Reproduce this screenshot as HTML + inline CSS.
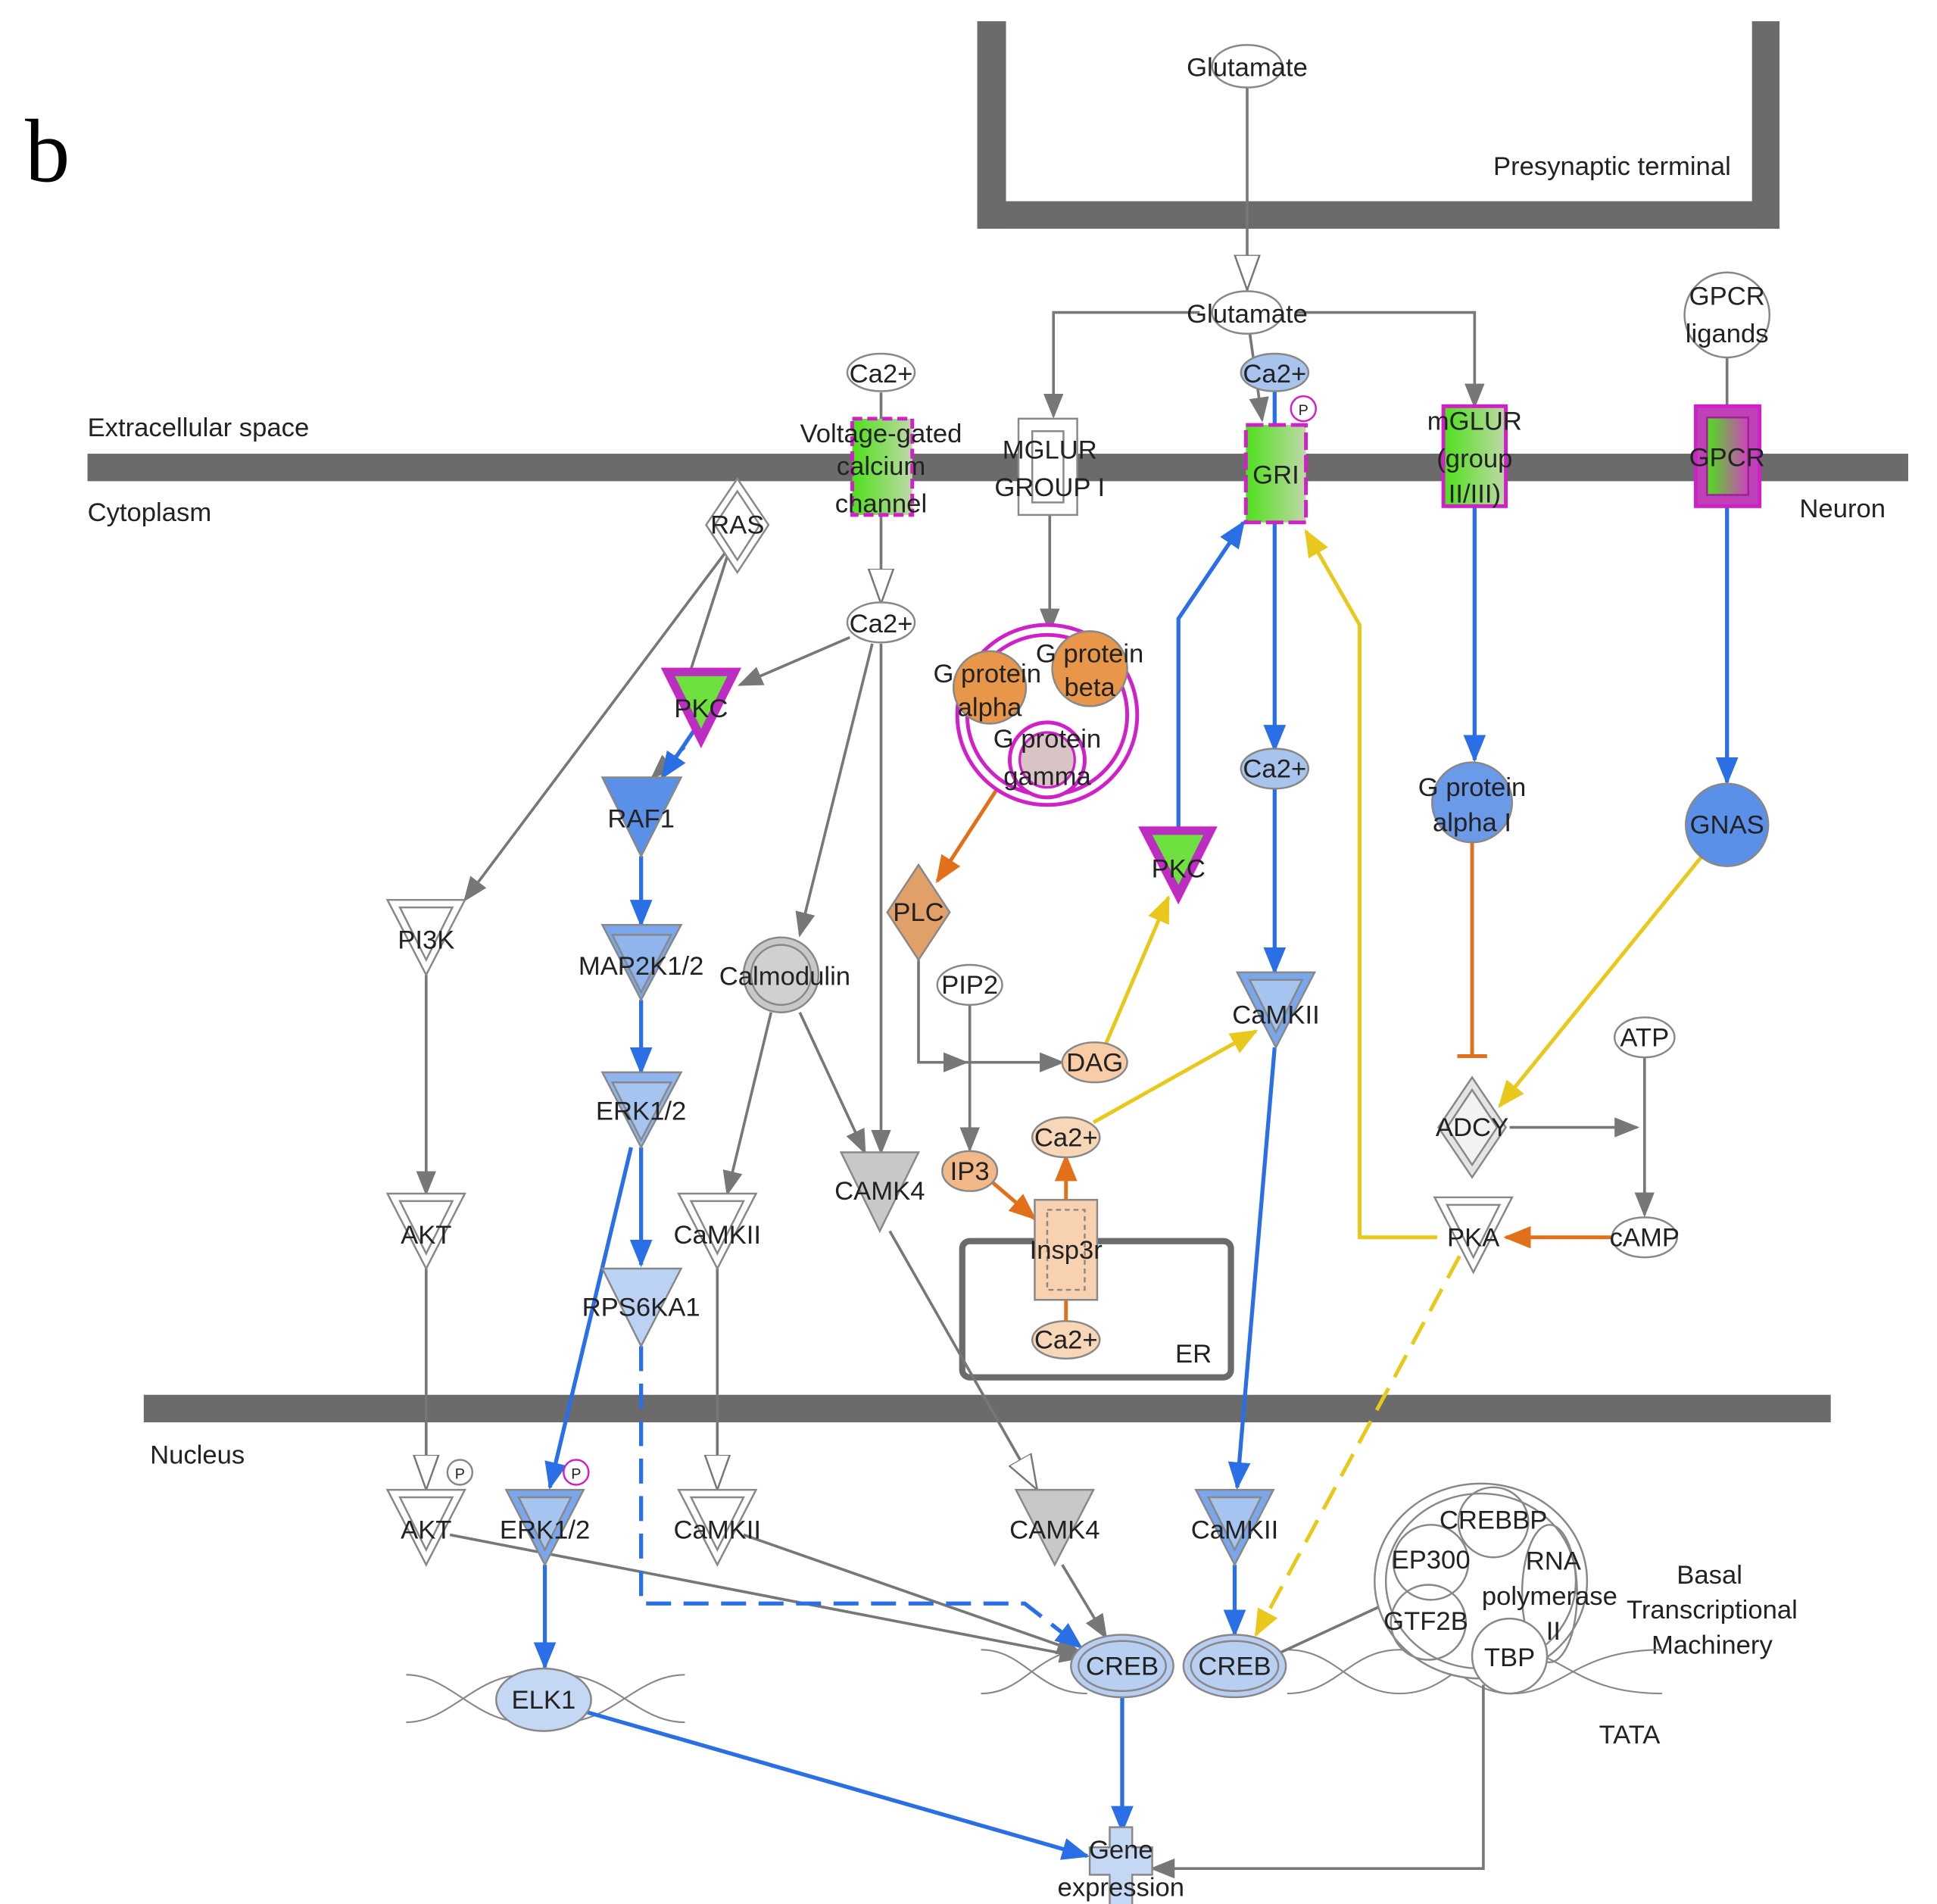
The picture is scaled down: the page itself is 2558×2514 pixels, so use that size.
<!DOCTYPE html>
<html><head><meta charset="utf-8"><style>
html,body{margin:0;padding:0;background:#fff;}
svg{display:block;}
text{font-family:"Liberation Sans",sans-serif;font-size:21px;fill:#222;text-anchor:middle;}
.l{text-anchor:start;}
</style></head><body>
<svg width="2558" height="2514" viewBox="0 0 1550 1523.4" xmlns="http://www.w3.org/2000/svg">
<defs>
<marker id="ag" markerUnits="userSpaceOnUse" markerWidth="20" markerHeight="20" refX="18" refY="10" orient="auto"><path d="M0,2 L20,10 L0,18 Z" fill="#777"/></marker>
<marker id="ab" markerUnits="userSpaceOnUse" markerWidth="22" markerHeight="22" refX="20" refY="11" orient="auto"><path d="M0,2 L22,11 L0,20 Z" fill="#2b6fe6"/></marker>
<marker id="ay" markerUnits="userSpaceOnUse" markerWidth="22" markerHeight="22" refX="20" refY="11" orient="auto"><path d="M0,2 L22,11 L0,20 Z" fill="#e8c81a"/></marker>
<marker id="ao" markerUnits="userSpaceOnUse" markerWidth="22" markerHeight="22" refX="20" refY="11" orient="auto"><path d="M0,2 L22,11 L0,20 Z" fill="#e2701a"/></marker>
<marker id="aw" markerUnits="userSpaceOnUse" markerWidth="30" markerHeight="24" refX="28" refY="12" orient="auto"><path d="M0,2 L28,12 L0,22 Z" fill="#fff" stroke="#777" stroke-width="1.5"/></marker>
<marker id="tb" markerUnits="userSpaceOnUse" markerWidth="4" markerHeight="24" refX="2" refY="12" orient="auto"><path d="M2,0 L2,24" stroke="#e2701a" stroke-width="3"/></marker>
<linearGradient id="gm" x1="0" y1="0" x2="1" y2="0"><stop offset="0" stop-color="#4ee01a"/><stop offset="1" stop-color="#c0d8a8"/></linearGradient>
<linearGradient id="gp" x1="0" y1="0" x2="1" y2="0"><stop offset="0" stop-color="#4ee01a"/><stop offset="1" stop-color="#d040c0"/></linearGradient>
</defs>

<text x="38" y="145" style="font-family:'Liberation Serif',serif;font-size:72px;fill:#000">b</text>

<!-- bars -->
<rect x="782" y="17" width="23" height="166" fill="#6b6b6b"/>
<rect x="1402" y="17" width="22" height="166" fill="#6b6b6b"/>
<rect x="782" y="161" width="642" height="22" fill="#6b6b6b"/>
<rect x="70" y="363" width="1457" height="22" fill="#6b6b6b"/>
<rect x="115" y="1116" width="1350" height="22" fill="#6b6b6b"/>
<rect x="770" y="993" width="215" height="109" rx="6" fill="none" stroke="#6b6b6b" stroke-width="5"/>

<text x="1290" y="140">Presynaptic terminal</text>
<text class="l" x="70" y="349">Extracellular space</text>
<text class="l" x="70" y="417">Cytoplasm</text>
<text class="l" x="1440" y="414">Neuron</text>
<text class="l" x="120" y="1171">Nucleus</text>
<text x="955" y="1090">ER</text>
<text x="1304" y="1395">TATA</text>
<text x="1368" y="1267">Basal</text>
<text x="1370" y="1295">Transcriptional</text>
<text x="1370" y="1323">Machinery</text>

<!-- DNA helices -->
<g fill="none" stroke="#888" stroke-width="1.3">
<path d="M325,1378 C360,1378 380,1340 420,1340 M450,1340 C490,1340 510,1378 548,1378"/>
<path d="M325,1340 C360,1340 380,1378 420,1378 M450,1378 C490,1378 510,1340 548,1340"/>
<path d="M785,1355 C820,1355 830,1320 870,1320 M1030,1320 C1070,1320 1080,1355 1120,1355 C1160,1355 1170,1320 1210,1320 C1250,1320 1260,1355 1330,1355"/>
<path d="M785,1320 C820,1320 830,1355 870,1355 M1030,1355 C1070,1355 1080,1320 1120,1320 C1160,1320 1170,1355 1210,1355 C1250,1355 1260,1320 1330,1320"/>
</g>

<!-- gray edges -->
<g fill="none" stroke="#777" stroke-width="2.2">
<path d="M998,70 L998,232" marker-end="url(#aw)"/>
<path d="M960,250 L843,250 L843,333" marker-end="url(#ag)"/>
<path d="M1036,250 L1180,250 L1180,325" marker-end="url(#ag)"/>
<path d="M1000,266 L1010,336" marker-end="url(#ag)"/>
<path d="M1382,285 L1382,325"/>
<path d="M705,314 L705,336"/>
<path d="M705,412 L705,483" marker-end="url(#aw)"/>
<path d="M840,412 L840,505" marker-end="url(#ag)"/>
<path d="M582,440 L372,720" marker-end="url(#ag)"/>
<path d="M582,445 L553,535"/>
<path d="M680,510 L592,548" marker-end="url(#ag)"/>
<path d="M548,598 L522,622" marker-end="url(#ag)"/>
<path d="M698,515 L640,748" marker-end="url(#ag)"/>
<path d="M705,515 L705,922" marker-end="url(#ag)"/>
<path d="M617,810 L582,955" marker-end="url(#ag)"/>
<path d="M640,810 L692,922" marker-end="url(#ag)"/>
<path d="M341,780 L341,955" marker-end="url(#ag)"/>
<path d="M341,1015 L341,1192" marker-end="url(#aw)"/>
<path d="M574,1015 L574,1192" marker-end="url(#aw)"/>
<path d="M712,985 L830,1192" marker-end="url(#aw)"/>
<path d="M850,1252 L885,1310" marker-end="url(#ag)"/>
<path d="M360,1228 L866,1326" marker-end="url(#ag)"/>
<path d="M595,1228 L864,1322" marker-end="url(#ag)"/>
<path d="M1012,1328 L1105,1285"/>
<path d="M1187,1348 L1187,1495 L922,1495" marker-end="url(#ag)"/>
<path d="M776,803 L776,920" marker-end="url(#ag)"/>
<path d="M735,768 L735,850 L773,850" marker-end="url(#ag)"/>
<path d="M770,850 L850,850" marker-end="url(#ag)"/>
<path d="M1208,902 L1310,902" marker-end="url(#ag)"/>
<path d="M1316,846 L1316,972" marker-end="url(#ag)"/>
</g>

<!-- orange edges -->
<g fill="none" stroke="#e2701a" stroke-width="3">
<path d="M800,628 L750,705" marker-end="url(#ao)"/>
<path d="M793,945 L828,975" marker-end="url(#ao)"/>
<path d="M853,960 L853,925" marker-end="url(#ao)"/>
<path d="M853,1040 L853,1058"/>
<path d="M1292,990 L1205,990" marker-end="url(#ao)"/>
<path d="M1178,674 L1178,845" marker-end="url(#tb)"/>
</g>

<!-- yellow edges -->
<g fill="none" stroke="#e8c81a" stroke-width="3">
<path d="M885,835 L935,718" marker-end="url(#ay)"/>
<path d="M875,898 L1005,825" marker-end="url(#ay)"/>
<path d="M1362,685 L1200,885" marker-end="url(#ay)"/>
<path d="M1150,990 L1088,990 L1088,500 L1045,425" marker-end="url(#ay)"/>
<path d="M1168,1005 L1005,1308" stroke-dasharray="20,10" marker-end="url(#ay)"/>
</g>

<!-- blue edges -->
<g fill="none" stroke="#2b6fe6" stroke-width="3.2">
<path d="M1020,312 L1020,340"/>
<path d="M1020,418 L1020,600" marker-end="url(#ab)"/>
<path d="M1020,630 L1020,778" marker-end="url(#ab)"/>
<path d="M1020,838 L990,1190" marker-end="url(#ab)"/>
<path d="M988,1252 L988,1308" marker-end="url(#ab)"/>
<path d="M943,662 L943,495 L995,418" marker-end="url(#ab)"/>
<path d="M1180,405 L1180,608" marker-end="url(#ab)"/>
<path d="M1382,405 L1382,626" marker-end="url(#ab)"/>
<path d="M555,585 L530,622" marker-end="url(#ab)"/>
<path d="M513,685 L513,740" marker-end="url(#ab)"/>
<path d="M513,800 L513,858" marker-end="url(#ab)"/>
<path d="M513,918 L513,1012" marker-end="url(#ab)"/>
<path d="M505,918 L440,1190" marker-end="url(#ab)"/>
<path d="M436,1252 L436,1334" marker-end="url(#ab)"/>
<path d="M470,1370 L870,1485" marker-end="url(#ab)"/>
<path d="M898,1357 L898,1465" marker-end="url(#ab)"/>
<path d="M513,1077 L513,1283 L820,1283 L865,1318" stroke-dasharray="20,10" marker-end="url(#ab)"/>
</g>

<!-- nodes -->
<g stroke="#888" stroke-width="1.5">
<ellipse cx="998" cy="53" rx="28" ry="17" fill="#fff"/>
<ellipse cx="998" cy="250" rx="28" ry="17" fill="#fff"/>
<ellipse cx="705" cy="298" rx="27" ry="15" fill="#fff"/>
<ellipse cx="1020" cy="298" rx="27" ry="15" fill="#a8c4ec"/>
<circle cx="1382" cy="252" r="34" fill="#fff"/>
<ellipse cx="705" cy="498" rx="27" ry="16" fill="#fff"/>
<!-- voltage gated -->
<rect x="682" y="335" width="48" height="77" fill="url(#gm)" stroke="#d020c8" stroke-width="3" stroke-dasharray="8,4"/>
<!-- MGLUR -->
<rect x="815" y="335" width="47" height="77" fill="#fff"/>
<rect x="826" y="345" width="25" height="57" fill="#fff"/>
<!-- GRI -->
<rect x="997" y="340" width="48" height="78" fill="url(#gm)" stroke="#d020c8" stroke-width="3" stroke-dasharray="14,4"/>
<circle cx="1043" cy="327" r="10" fill="#fff" stroke="#d020c8"/>
<!-- mGLUR -->
<rect x="1155" y="325" width="50" height="80" fill="url(#gm)" stroke="#d020c8" stroke-width="3"/>
<!-- GPCR -->
<rect x="1357" y="325" width="51" height="80" fill="#c040b8" stroke="#d020c8" stroke-width="3"/>
<rect x="1366" y="334" width="33" height="62" fill="url(#gp)" stroke="#a02098"/>
<!-- RAS -->
<path d="M590,383 L615,420 L590,458 L565,420 Z" fill="#fff"/>
<path d="M590,393 L608,420 L590,448 L572,420 Z" fill="none"/>
<!-- PKC left -->
<path d="M530,535 L592,535 L561,597 Z" fill="#b830c0" stroke="#d020c8"/>
<path d="M540,541 L582,541 L561,583 Z" fill="#6ee040" stroke="none"/>
<!-- RAF1 etc -->
<path d="M482,622 L545,622 L513,685 Z" fill="#5a90e8"/>
<path d="M482,740 L545,740 L513,800 Z" fill="#7aa6ec"/>
<path d="M490,748 L537,748 L513,794 Z" fill="#8fb4ee"/>
<path d="M482,858 L545,858 L513,918 Z" fill="#8fb4ee"/>
<path d="M490,866 L537,866 L513,912 Z" fill="#a6c4f0"/>
<path d="M482,1015 L545,1015 L513,1077 Z" fill="#bcd2f4"/>
<!-- white triangles -->
<path d="M310,720 L372,720 L341,780 Z" fill="#fff"/><path d="M320,726 L362,726 L341,768 Z" fill="none"/>
<path d="M310,955 L372,955 L341,1015 Z" fill="#fff"/><path d="M320,961 L362,961 L341,1003 Z" fill="none"/>
<path d="M310,1192 L372,1192 L341,1252 Z" fill="#fff"/><path d="M320,1198 L362,1198 L341,1240 Z" fill="none"/>
<circle cx="368" cy="1178" r="10" fill="#fff"/>
<path d="M543,955 L605,955 L574,1015 Z" fill="#fff"/><path d="M553,961 L595,961 L574,1003 Z" fill="none"/>
<path d="M543,1192 L605,1192 L574,1252 Z" fill="#fff"/><path d="M553,1198 L595,1198 L574,1240 Z" fill="none"/>
<path d="M1148,958 L1210,958 L1179,1018 Z" fill="#fff"/><path d="M1158,964 L1200,964 L1179,1006 Z" fill="none"/>
<!-- gray triangles -->
<path d="M673,922 L735,922 L704,985 Z" fill="#c8c8c8"/>
<path d="M813,1192 L875,1192 L844,1252 Z" fill="#c8c8c8"/>
<!-- calmodulin -->
<circle cx="625" cy="780" r="30" fill="#c8c8c8"/>
<circle cx="625" cy="780" r="24" fill="#d0d0d0"/>
<!-- G protein complex -->
<circle cx="838" cy="572" r="72" fill="#fff" stroke="#d020c8" stroke-width="3"/>
<circle cx="838" cy="572" r="64" fill="none" stroke="#d020c8" stroke-width="3"/>
<circle cx="792" cy="550" r="29" fill="#e8974a"/>
<circle cx="872" cy="535" r="30" fill="#e8974a"/>
<circle cx="838" cy="608" r="30" fill="#fff" stroke="#d020c8" stroke-width="3"/>
<circle cx="838" cy="608" r="22" fill="#d8c4c4" stroke="#d020c8" stroke-width="2"/>
<!-- PLC -->
<path d="M735,692 L760,730 L735,768 L710,730 Z" fill="#e0a068"/>
<ellipse cx="776" cy="788" rx="26" ry="16" fill="#fff"/>
<ellipse cx="876" cy="850" rx="26" ry="16" fill="#f8cca6"/>
<ellipse cx="853" cy="910" rx="27" ry="16" fill="#f8d6b8"/>
<ellipse cx="776" cy="937" rx="22" ry="16" fill="#f2b888"/>
<rect x="828" y="960" width="50" height="80" fill="#f8d2b0"/>
<rect x="838" y="968" width="30" height="64" fill="none" stroke-dasharray="4,3"/>
<ellipse cx="853" cy="1072" rx="27" ry="15" fill="#f8d6b8"/>
<!-- PKC right -->
<path d="M912,662 L973,662 L943,722 Z" fill="#b830c0" stroke="#d020c8"/>
<path d="M922,668 L963,668 L943,708 Z" fill="#6ee040" stroke="none"/>
<ellipse cx="1020" cy="615" rx="27" ry="16" fill="#a8c4ec"/>
<path d="M990,778 L1052,778 L1021,838 Z" fill="#7aa6ec"/><path d="M1000,784 L1042,784 L1021,826 Z" fill="#a6c4f0"/>
<path d="M957,1192 L1019,1192 L988,1252 Z" fill="#7aa6ec"/><path d="M967,1198 L1009,1198 L988,1240 Z" fill="#a6c4f0"/>
<circle cx="1178" cy="642" r="32" fill="#6a9ae8"/>
<circle cx="1382" cy="660" r="33" fill="#5a90e8"/>
<ellipse cx="1316" cy="830" rx="24" ry="16" fill="#fff"/>
<path d="M1178,862 L1205,902 L1178,942 L1151,902 Z" fill="#e4e4e4"/>
<path d="M1178,872 L1198,902 L1178,932 L1158,902 Z" fill="#f2f2f2"/>
<ellipse cx="1316" cy="990" rx="26" ry="16" fill="#fff"/>
<!-- ERK nucleus -->
<path d="M405,1192 L467,1192 L436,1252 Z" fill="#7aa6ec"/><path d="M415,1198 L457,1198 L436,1240 Z" fill="#a6c4f0"/>
<circle cx="461" cy="1178" r="10" fill="#fff" stroke="#d020c8"/>
<ellipse cx="435" cy="1360" rx="38" ry="25" fill="#c4d8f6"/>
<ellipse cx="898" cy="1333" rx="41" ry="25" fill="#b8cff2"/>
<ellipse cx="898" cy="1333" rx="35" ry="20" fill="none"/>
<ellipse cx="988" cy="1333" rx="41" ry="25" fill="#b8cff2"/>
<ellipse cx="988" cy="1333" rx="35" ry="20" fill="none"/>
<!-- machinery -->
<ellipse cx="1185" cy="1265" rx="85" ry="78" fill="#fff"/>
<ellipse cx="1185" cy="1265" rx="76" ry="70" fill="none"/>
<circle cx="1195" cy="1218" r="28" fill="none"/>
<circle cx="1145" cy="1250" r="30" fill="none"/>
<circle cx="1143" cy="1298" r="30" fill="none"/>
<ellipse cx="1240" cy="1275" rx="22" ry="55" fill="none"/>
<circle cx="1208" cy="1325" r="30" fill="#fff"/>
<!-- gene expression -->
<path d="M888,1462 L906,1462 L906,1478 L922,1478 L922,1500 L906,1500 L906,1525 L888,1525 L888,1500 L872,1500 L872,1478 L888,1478 Z" fill="#c4d8f6"/>
</g>

<!-- labels -->
<text x="998" y="61">Glutamate</text>
<text x="998" y="258">Glutamate</text>
<text x="705" y="306">Ca2+</text>
<text x="1020" y="306">Ca2+</text>
<text x="1382" y="244">GPCR</text>
<text x="1382" y="274">ligands</text>
<text x="705" y="354">Voltage-gated</text>
<text x="705" y="380">calcium</text>
<text x="705" y="410">channel</text>
<text x="840" y="367">MGLUR</text>
<text x="840" y="397">GROUP I</text>
<text x="1021" y="387">GRI</text>
<text x="1043" y="332" style="font-size:12px">P</text>
<text x="1180" y="344">mGLUR</text>
<text x="1180" y="374">(group</text>
<text x="1180" y="402">II/III)</text>
<text x="1382" y="373">GPCR</text>
<text x="590" y="427">RAS</text>
<text x="705" y="506">Ca2+</text>
<text x="561" y="574">PKC</text>
<text x="513" y="662">RAF1</text>
<text x="513" y="780">MAP2K1/2</text>
<text x="513" y="896">ERK1/2</text>
<text x="513" y="1053">RPS6KA1</text>
<text x="341" y="759">PI3K</text>
<text x="341" y="995">AKT</text>
<text x="341" y="1231">AKT</text>
<text x="368" y="1183" style="font-size:12px">P</text>
<text x="628" y="788">Calmodulin</text>
<text x="574" y="995">CaMKII</text>
<text x="574" y="1231">CaMKII</text>
<text x="704" y="960">CAMK4</text>
<text x="844" y="1231">CAMK4</text>
<text x="790" y="546">G protein</text>
<text x="792" y="573">alpha</text>
<text x="872" y="530">G protein</text>
<text x="872" y="557">beta</text>
<text x="838" y="598">G protein</text>
<text x="838" y="628">gamma</text>
<text x="735" y="737">PLC</text>
<text x="776" y="795">PIP2</text>
<text x="876" y="857">DAG</text>
<text x="853" y="917">Ca2+</text>
<text x="776" y="944">IP3</text>
<text x="853" y="1007">Insp3r</text>
<text x="853" y="1079">Ca2+</text>
<text x="943" y="702">PKC</text>
<text x="1020" y="622">Ca2+</text>
<text x="1021" y="819">CaMKII</text>
<text x="988" y="1231">CaMKII</text>
<text x="1178" y="637">G protein</text>
<text x="1178" y="665">alpha I</text>
<text x="1382" y="667">GNAS</text>
<text x="1316" y="837">ATP</text>
<text x="1178" y="909">ADCY</text>
<text x="1179" y="997">PKA</text>
<text x="1316" y="997">cAMP</text>
<text x="436" y="1231">ERK1/2</text>
<text x="461" y="1183" style="font-size:12px">P</text>
<text x="435" y="1367">ELK1</text>
<text x="898" y="1340">CREB</text>
<text x="988" y="1340">CREB</text>
<text x="1195" y="1223">CREBBP</text>
<text x="1145" y="1255">EP300</text>
<text x="1243" y="1256">RNA</text>
<text x="1240" y="1284">polymerase</text>
<text x="1243" y="1312">II</text>
<text x="1141" y="1304">GTF2B</text>
<text x="1208" y="1333">TBP</text>
<text x="897" y="1487">Gene</text>
<text x="897" y="1517">expression</text>
</svg>
</body></html>
